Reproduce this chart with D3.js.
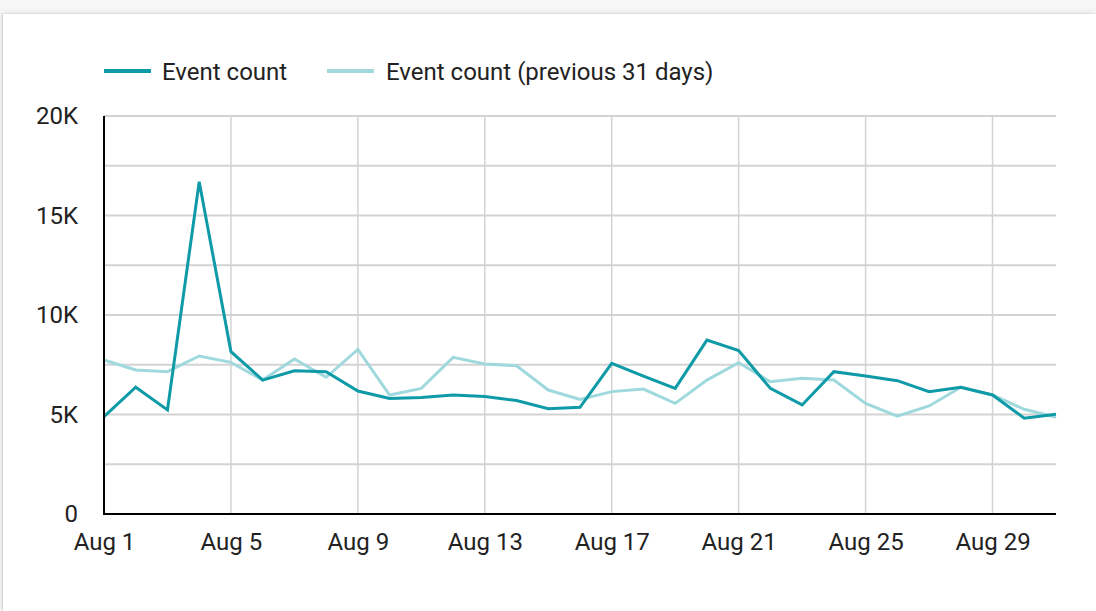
<!DOCTYPE html>
<html>
<head>
<meta charset="utf-8">
<script src="https://cdn.jsdelivr.net/npm/d3@7"></script>
<style>
  html, body { margin: 0; padding: 0; background: #f6f6f6; }
  body { width: 1096px; height: 611px; overflow: hidden; position: relative; }
  #card { position: absolute; left: 3px; top: 14px; width: 1093px; height: 597px; background: #fff;
          box-shadow: 0 -2px 6px rgba(0,0,0,0.06), -1px 0 2px rgba(0,0,0,0.15); }
  svg { position: absolute; left: 0; top: 0; }
  text { font-family: Roboto, "Noto Sans", sans-serif; fill: #222; }
</style>
</head>
<body>
<div id="card"></div>
<svg id="chart" width="1096" height="611"></svg>
<script>
// Daily event counts for August, with the prior 31-day period for comparison
const days = d3.range(1, 32);
const eventCount = [4890, 6370, 5230, 16700, 8160, 6730, 7200, 7150, 6180, 5800,
                    5860, 5980, 5900, 5700, 5290, 5360, 7570, 6930, 6310, 8740,
                    8210, 6310, 5480, 7150, 6930, 6700, 6150, 6370, 5980, 4810, 5010];
const eventCountPrev = [7740, 7240, 7150, 7940, 7620, 6730, 7790, 6870, 8270, 5980,
                        6310, 7870, 7540, 7450, 6230, 5760, 6150, 6280, 5560, 6730,
                        7600, 6650, 6820, 6730, 5560, 4920, 5430, 6370, 5980, 5260, 4860];
const xTickDays = [1, 5, 9, 13, 17, 21, 25, 29];
const yTicks = [0, 5000, 10000, 15000, 20000];
const yGrid = [2500, 5000, 7500, 10000, 12500, 15000, 17500, 20000];
const seriesNames = ["Event count", "Event count (previous 31 days)"];
const seriesColors = ["#0e9aa7", "#9fd9de"];

const svg = d3.select("#chart");
const plotLeft = 104, plotRight = 1056, plotTop = 116, plotBottom = 514;
const labelSize = 24;

const x = d3.scaleLinear().domain([1, 31]).range([plotLeft, plotRight]);
const y = d3.scaleLinear().domain([0, 20000]).range([plotBottom, plotTop]);

// Horizontal gridlines
svg.append("g").selectAll("line").data(yGrid).join("line")
  .attr("x1", plotLeft).attr("x2", plotRight)
  .attr("y1", d => y(d)).attr("y2", d => y(d))
  .attr("stroke", "#d3d3d3").attr("stroke-width", 2);

// Vertical gridlines at labelled days
svg.append("g").selectAll("line").data(xTickDays.slice(1)).join("line")
  .attr("x1", d => x(d)).attr("x2", d => x(d))
  .attr("y1", plotTop).attr("y2", plotBottom)
  .attr("stroke", "#d3d3d3").attr("stroke-width", 1.5);

// Y axis labels
const yAxis = d3.axisLeft(y).tickValues(yTicks).tickSize(0).tickPadding(26)
  .tickFormat(d => d === 0 ? "0" : (d / 1000) + "K");
const gy = svg.append("g").attr("transform", `translate(${plotLeft},0)`).call(yAxis);
gy.select(".domain").remove();
gy.selectAll("text").attr("font-size", labelSize).attr("fill", "#222")
  .style("font-family", "Roboto, sans-serif");

// X axis labels
const xAxis = d3.axisBottom(x).tickValues(xTickDays).tickSize(0).tickPadding(19)
  .tickFormat(d => "Aug " + d);
const gx = svg.append("g").attr("transform", `translate(0,${plotBottom})`).call(xAxis);
gx.select(".domain").remove();
gx.selectAll("text").attr("font-size", labelSize).attr("fill", "#222")
  .style("font-family", "Roboto, sans-serif");

// Series lines (previous period drawn underneath)
const line = d3.line().x((d, i) => x(days[i])).y(d => y(d));
svg.append("path").datum(eventCountPrev).attr("d", line)
  .attr("fill", "none").attr("stroke", seriesColors[1]).attr("stroke-width", 3)
  .attr("stroke-linejoin", "miter");
svg.append("path").datum(eventCount).attr("d", line)
  .attr("fill", "none").attr("stroke", seriesColors[0]).attr("stroke-width", 3)
  .attr("stroke-linejoin", "miter");

// Axis lines
svg.append("line").attr("x1", plotLeft).attr("x2", plotLeft).attr("y1", plotTop).attr("y2", plotBottom + 1)
  .attr("stroke", "#000").attr("stroke-width", 2);
svg.append("line").attr("x1", plotLeft - 1).attr("x2", plotRight).attr("y1", plotBottom).attr("y2", plotBottom)
  .attr("stroke", "#000").attr("stroke-width", 2);

// Legend
const legendItems = [{ x: 104, tx: 162 }, { x: 327, tx: 386 }];
const lg = svg.append("g");
legendItems.forEach((it, i) => {
  lg.append("line").attr("x1", it.x).attr("x2", it.x + 47).attr("y1", 71).attr("y2", 71)
    .attr("stroke", seriesColors[i]).attr("stroke-width", 4);
  lg.append("text").attr("x", it.tx).attr("y", 80).attr("font-size", labelSize).text(seriesNames[i]);
});
</script>
</body>
</html>
